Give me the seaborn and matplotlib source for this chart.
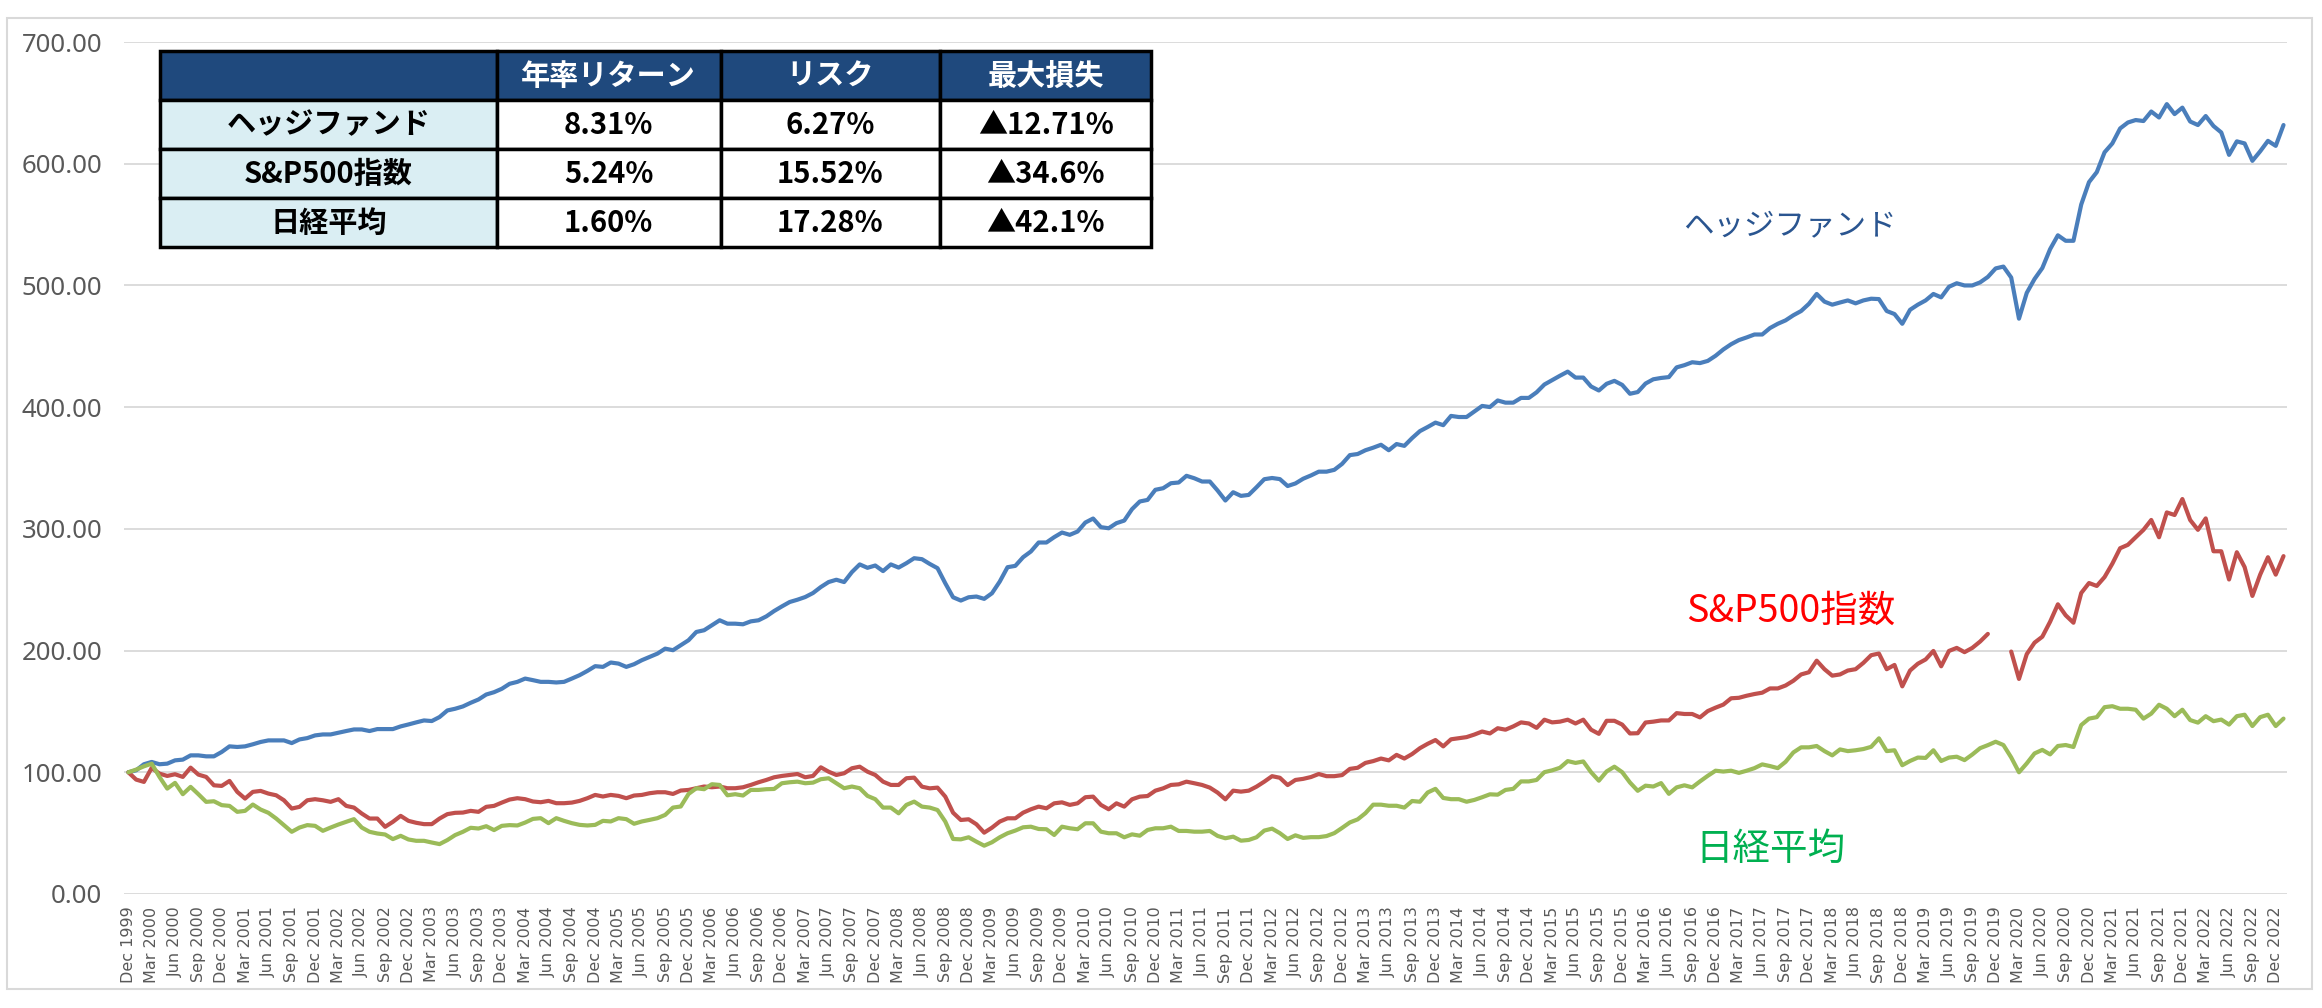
import numpy as np
import pandas as pd
import seaborn as sns
import matplotlib.pyplot as plt
from matplotlib.patches import Rectangle

# monthly index values, Dec 1999 = 100
hedge = [
    100.0, 101.6, 106.6, 108.5, 106.6, 107.1, 109.8, 110.4, 113.9, 113.9,
    113.1, 113.1, 116.7, 121.3, 120.8, 121.3, 123.0, 124.9, 126.2, 126.2,
    126.2, 124.0, 127.0, 128.1, 130.3, 131.1, 131.1, 132.5, 133.9, 135.2,
    135.2, 133.9, 135.5, 135.5, 135.5, 137.7, 139.3, 141.0, 142.6, 142.1,
    145.4, 150.8, 152.2, 154.1, 157.1, 159.8, 163.9, 165.8, 168.6, 172.7,
    174.3, 177.0, 175.7, 174.3, 174.3, 173.8, 174.3, 177.0, 179.8, 183.3,
    187.2, 186.6, 190.2, 189.3, 186.6, 188.8, 192.1, 194.8, 197.5, 201.6,
    200.3, 204.4, 208.5, 215.3, 216.7, 220.8, 224.9, 222.1, 222.1, 221.6,
    224.0, 224.9, 228.1, 232.5, 236.3, 239.9, 241.8, 244.0, 247.3, 252.2,
    256.3, 258.2, 256.3, 264.5, 270.8, 268.0, 269.9, 265.3, 270.8,
    268.2, 271.8, 275.9, 275.1, 271.2, 267.7, 255.3, 243.8, 241.1, 243.8,
    244.4, 242.5, 247.1, 256.7, 268.5, 269.6, 276.7, 281.4, 288.8, 288.8,
    293.2, 297.0, 295.1, 297.8, 305.2, 308.5, 301.4, 300.5, 304.7, 306.8,
    316.2, 322.5, 323.8, 332.1, 333.4, 337.5, 338.1, 343.6, 341.6, 338.9,
    338.9, 331.5, 323.3, 330.1, 327.1, 327.9, 334.2, 340.8,
    341.8, 340.9, 335.2, 337.3, 341.2, 343.9, 347.0, 347.0, 348.5, 353.4,
    360.6, 361.5, 364.6, 366.7, 369.1, 364.6, 369.7, 368.2, 374.6, 380.3,
    383.7, 387.3, 385.2, 392.8, 391.9, 391.9, 396.4, 401.0, 400.1, 405.5,
    403.7, 403.7, 407.6, 407.6, 412.2, 418.6, 422.2, 425.8, 429.2, 424.3,
    424.3, 417.0, 413.7, 419.2, 421.6, 418.3, 411.0,
    412.4, 419.4, 422.9, 424.0, 424.7, 432.7, 434.5, 436.9, 436.2, 438.0,
    442.2, 447.4, 451.7, 455.1, 457.3, 459.7, 459.7, 465.0, 468.5, 471.3,
    475.5, 479.0, 484.9, 493.0, 486.7, 484.2, 486.0, 487.7, 485.3, 487.7,
    489.1, 488.8, 479.0, 476.5, 468.5, 480.0, 484.2, 487.7, 493.0, 490.2,
    498.9, 501.8, 500.0, 500.0, 502.5, 507.0, 514.0,
    515.5, 506.5, 472.7, 493.9, 505.3, 514.3, 529.8, 541.2, 536.7, 536.7,
    566.5, 584.9, 593.1, 609.4, 616.7, 629.0, 633.9, 635.9, 635.1, 642.9,
    638.0, 649.0, 640.8, 646.1, 634.7, 631.8, 639.2, 631.0, 625.7, 607.3,
    618.4, 616.7, 602.4, 610.2, 618.8, 614.7, 631.8,
]

# two months hidden behind the label box in the original
sp500 = [
    100.0, 94.0, 92.1, 103.6, 98.9, 97.0, 98.4, 96.2, 103.8, 98.1,
    96.2, 89.3, 88.8, 92.9, 83.9, 78.4, 83.9, 84.7, 82.5, 81.1,
    77.0, 70.2, 71.6, 77.0, 77.9, 77.0, 75.7, 77.9, 72.4, 71.0,
    66.1, 62.0, 62.0, 55.2, 59.3, 64.2, 60.1, 58.5, 57.4, 57.4,
    62.0, 65.6, 66.7, 66.9, 68.3, 67.5, 71.6, 72.4, 75.1, 77.6,
    78.7, 77.9, 76.0, 75.4, 76.5, 74.6, 74.6, 75.1, 76.5, 78.7,
    81.4, 80.1, 81.4, 80.6, 78.7, 80.9, 81.4, 82.8, 83.6, 83.6,
    82.2, 85.0, 85.5, 86.9, 88.3, 87.7, 88.3, 86.9, 86.9, 87.7,
    89.6, 91.8, 93.7, 95.9, 97.0, 97.8, 98.6, 95.9, 97.0, 104.1,
    100.5, 97.8, 99.2, 103.3, 104.6, 100.5, 97.8, 92.3, 89.6,
    89.6, 95.1, 95.6, 88.2, 86.8, 87.4, 80.0, 66.8, 60.8, 61.4,
    57.3, 50.4, 54.5, 59.5, 62.2, 62.2, 66.8, 69.6, 71.8, 70.4,
    74.5, 75.3, 73.2, 74.5, 79.5, 80.0, 73.2, 69.6, 74.5, 71.8,
    77.8, 80.0, 80.5, 84.9, 86.8, 89.6, 90.1, 92.3, 91.0, 89.6,
    87.4, 83.3, 77.8, 84.9, 84.1, 84.9, 88.2, 92.3,
    96.8, 95.5, 89.5, 93.7, 94.6, 96.1, 98.6, 96.8, 96.8, 97.7,
    102.8, 103.7, 107.7, 109.2, 111.3, 109.8, 114.3, 111.3, 115.0, 119.8,
    123.4, 126.5, 121.3, 127.1, 128.0, 128.9, 131.0, 133.5, 131.9, 136.2,
    135.0, 137.7, 141.0, 140.1, 136.5, 143.2, 141.0, 141.6, 143.2, 140.1,
    143.2, 135.0, 131.6, 142.3, 142.3, 139.2, 131.9,
    132.1, 140.9, 141.6, 142.6, 142.6, 148.6, 147.9, 147.9, 145.1, 150.3,
    153.1, 155.6, 160.8, 161.2, 162.9, 164.3, 165.4, 168.9, 168.9, 171.3,
    175.2, 180.4, 182.2, 191.7, 184.7, 179.4, 180.4, 183.6, 184.7, 189.9,
    196.2, 197.6, 184.7, 188.2, 170.6, 183.6, 189.2, 192.7, 199.7, 187.1,
    199.7, 202.2, 198.7, 202.2, 207.4, 213.7,
    np.nan, np.nan,
    199.2, 176.7, 197.1, 206.5, 211.4, 223.7, 238.0, 229.0, 222.9, 247.3,
    255.5, 253.1, 260.4, 271.4, 284.1, 286.9, 293.1, 299.2, 307.3, 293.1,
    313.5, 311.4, 324.5, 307.3, 299.2, 308.6, 281.6, 281.6, 258.4, 280.8,
    268.6, 244.9, 262.4, 276.7, 262.4, 277.6,
]

nikkei = [
    100.0, 102.2, 104.9, 107.1, 96.2, 86.6, 91.3, 82.0, 88.0, 82.0,
    75.7, 76.2, 73.0, 72.4, 67.5, 68.3, 73.5, 69.4, 66.7, 62.0,
    56.6, 51.1, 54.6, 56.6, 56.0, 51.9, 54.6, 57.1, 59.3, 61.5,
    54.6, 51.1, 49.7, 48.9, 45.1, 47.8, 44.8, 43.7, 43.7, 42.3,
    41.0, 44.3, 48.4, 51.1, 54.4, 53.8, 55.7, 52.5, 56.0, 56.6,
    56.3, 58.7, 61.7, 62.3, 58.2, 62.3, 60.1, 58.2, 56.8, 56.3,
    56.8, 60.1, 59.6, 62.3, 61.5, 57.7, 59.6, 60.9, 62.3, 65.0,
    71.0, 71.9, 82.2, 86.9, 86.1, 90.2, 89.6, 81.1, 82.0, 80.9,
    85.5, 85.5, 86.1, 86.3, 91.0, 91.8, 92.3, 91.0, 91.5, 94.3,
    95.1, 91.0, 86.9, 88.3, 86.9, 80.6, 77.9, 71.0, 71.0,
    66.3, 73.2, 75.9, 71.8, 71.0, 69.0, 59.5, 45.2, 44.9, 46.6,
    43.0, 39.7, 42.5, 46.6, 49.9, 52.1, 54.8, 55.3, 53.4, 53.2,
    48.5, 55.3, 54.0, 53.2, 58.1, 58.1, 51.2, 49.9, 49.9, 46.6,
    49.0, 47.9, 52.6, 54.0, 54.0, 55.3, 51.8, 51.8, 51.2, 51.2,
    51.8, 47.7, 45.8, 47.1, 43.8, 44.4, 46.6, 52.1,
    53.7, 50.0, 45.2, 48.2, 46.1, 46.7, 46.7, 47.6, 50.0, 54.3,
    58.8, 61.3, 66.4, 73.4, 73.4, 72.5, 72.5, 71.0, 76.4, 75.8,
    83.4, 86.4, 78.9, 77.9, 77.9, 75.8, 77.3, 79.5, 81.9, 81.6,
    85.5, 86.4, 92.5, 92.5, 93.7, 100.1, 101.6, 103.7, 109.2, 107.7,
    108.9, 100.1, 93.1, 100.7, 104.6, 100.1, 91.6,
    84.8, 89.0, 88.3, 91.1, 82.3, 87.6, 89.3, 87.6, 92.5, 97.1,
    101.3, 100.6, 101.3, 99.5, 101.3, 103.4, 106.5, 105.1, 103.4, 108.6,
    116.3, 120.5, 120.5, 121.6, 117.4, 113.9, 118.8, 117.4, 118.1, 119.1,
    120.9, 127.9, 117.4, 118.1, 105.8, 109.3, 112.1, 111.8, 118.1, 109.3,
    112.1, 112.8, 110.0, 114.6, 119.8, 122.3, 125.1,
    122.4, 112.2, 100.0, 107.3, 115.5, 118.4, 114.7, 121.6, 122.4, 120.8,
    138.8, 144.1, 145.3, 153.5, 154.3, 152.2, 152.2, 151.4, 144.1, 148.2,
    155.5, 152.2, 146.1, 151.4, 142.9, 140.8, 146.1, 142.0, 143.3, 139.2,
    146.1, 147.3, 138.0, 145.3, 147.3, 138.0, 144.1,
]

series_names = ['ヘッジファンド', 'S&P500指数', '日経平均']
line_colors = ['#4A7EBB', '#C0504D', '#9BBB59']
label_colors = ['#2A5590', '#FF0000', '#00B050']

table_header = ['', '年率リターン', 'リスク', '最大損失']
table_names = ['ヘッジファンド', 'S&P500指数', '日経平均']
table_return = ['8.31%', '5.24%', '1.60%']
table_risk = ['6.27%', '15.52%', '17.28%']
table_maxloss = ['▲12.71%', '▲34.6%', '▲42.1%']

n = len(hedge)
months = pd.date_range('1999-12-01', periods=n, freq='MS')
tick_pos = list(range(0, n, 3))
tick_labels = [months[i].strftime('%b %Y') for i in tick_pos]

frames = []
for name, vals in zip(series_names, [hedge, sp500, nikkei]):
    d = pd.DataFrame({'month': range(n), 'value': vals, 'series': name})
    d['seg'] = name + d['value'].isna().cumsum().astype(str)
    frames.append(d.dropna())
df = pd.concat(frames, ignore_index=True)

sns.set_theme(style='white')
plt.rcParams['font.family'] = ['Noto Sans CJK JP', 'DejaVu Sans']

fig = plt.figure(figsize=(23.22, 10.08), dpi=100)
ax = fig.add_axes([0.0536, 0.1131, 0.9315, 0.8452])

sns.lineplot(data=df, x='month', y='value', hue='series', units='seg',
             estimator=None, hue_order=series_names,
             palette=dict(zip(series_names, line_colors)),
             linewidth=3, legend=False, ax=ax)

ax.set_xlim(-0.5, n - 0.5)
ax.set_ylim(0, 700)
yt = np.arange(0, 701, 100)
ax.set_yticks(yt)
ax.set_yticklabels([f'{v:.2f}' for v in yt], fontsize=18.5, color='#595959',
                   family=['Noto Sans', 'DejaVu Sans'])
ax.set_xticks(tick_pos)
ax.set_xticklabels(tick_labels, rotation=90, fontsize=11.5, color='#595959',
                   family=['DejaVu Sans'])
ax.tick_params(axis='x', length=0, pad=9)
ax.tick_params(axis='y', length=0, pad=16)
ax.set_xlabel('')
ax.set_ylabel('')
for s in ax.spines.values():
    s.set_visible(False)
ax.grid(axis='y', color='#D9D9D9', linewidth=1.3)
ax.grid(axis='x', visible=False)

# series labels
ax.text(199.8, 549, series_names[0], color=label_colors[0], fontsize=22, va='center', ha='left')
ax.text(200.2, 232, series_names[1], color=label_colors[1], fontsize=27, va='center', ha='left')
ax.text(201.4, 37, series_names[2], color=label_colors[2], fontsize=27, va='center', ha='left')

# summary table
cell_text = [list(r) for r in zip(table_names, table_return, table_risk, table_maxloss)]
col_w = np.array([336, 224, 219, 211], dtype=float)
tbl = ax.table(cellText=cell_text, colLabels=table_header, cellLoc='center',
               colWidths=list(col_w / col_w.sum()),
               bbox=[0.0165, 0.7594, 0.4582, 0.2300])
tbl.set_zorder(5)
tbl.auto_set_font_size(False)
for (r, c), cell in tbl.get_celld().items():
    cell.set_edgecolor('black')
    cell.set_linewidth(2.5)
    txt = cell.get_text()
    txt.set_fontsize(21)
    txt.set_fontweight('bold')
    if r == 0:
        cell.set_facecolor('#1F497D')
        txt.set_color('white')
    elif c == 0:
        cell.set_facecolor('#DAEEF3')
        txt.set_color('black')
    else:
        cell.set_facecolor('white')
        txt.set_color('black')

# chart border
fig.add_artist(Rectangle((7 / 2322, 1 - 989 / 1008), 2305 / 2322, 971 / 1008,
                         transform=fig.transFigure, fill=False,
                         edgecolor='#D9D9D9', linewidth=1.5))

fig.savefig('out.png', dpi=100)
